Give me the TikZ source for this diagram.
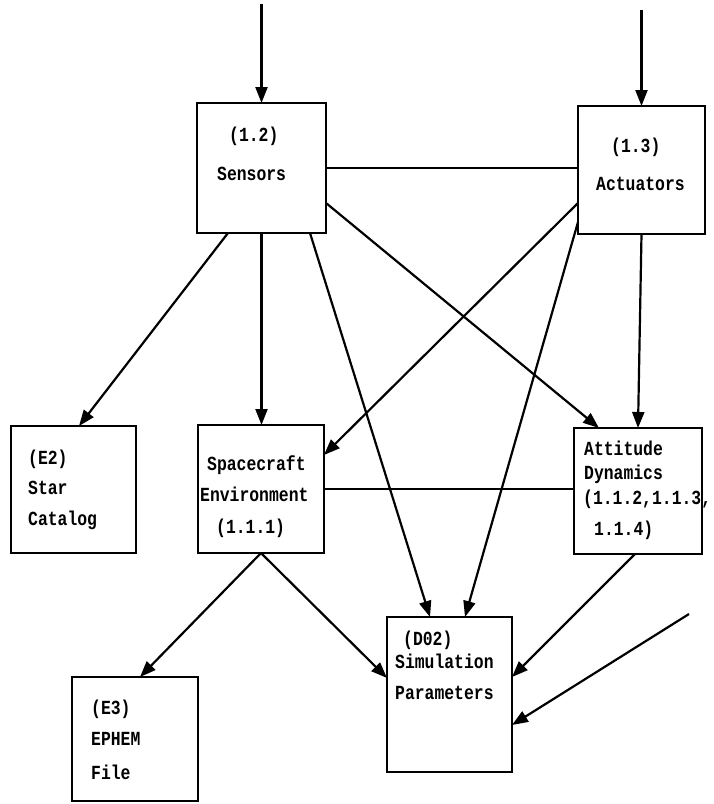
\documentclass[tikz,border=0pt]{standalone}
\usepackage{fontspec}
\newfontfamily\dotf[FakeStretch=0.82]{Liberation Mono}
\usetikzlibrary{arrows.meta,calc}
\begin{document}
\begin{tikzpicture}[x=1pt,y=-1pt,
  box/.style={draw,line width=2.8pt,rectangle,outer sep=0pt,inner sep=0pt},
  conn/.style={line width=2.2pt},
  arr/.style={conn,-{Triangle[length=16pt,width=12pt]}},
  txt/.style={anchor=mid west,inner sep=0pt,font=\dotf\bfseries\fontsize{20}{24}\selectfont}]
\useasboundingbox (0,0) rectangle (713,804);
% boxes
\node[box,minimum width=129pt,minimum height=130pt] (sens) at (261.5,168) {};
\node[box,minimum width=127pt,minimum height=128pt] (act) at (641.5,170) {};
\node[box,minimum width=125pt,minimum height=127pt] (star) at (73.5,489.5) {};
\node[box,minimum width=126pt,minimum height=128pt] (env) at (261,489) {};
\node[box,minimum width=128pt,minimum height=126pt] (att) at (638,491) {};
\node[box,minimum width=125pt,minimum height=155pt] (sim) at (449.5,694.5) {};
\node[box,minimum width=126pt,minimum height=124pt] (eph) at (135,739) {};
% texts
\node[txt] (t1a) at (229,139) {(1.2)};
\node[txt] (t1b) at (217,178) {Sensors};
\node[txt] (t2a) at (611,150) {(1.3)};
\node[txt] (t2b) at (596,188) {Actuators};
\node[txt] (t3a) at (28,462) {(E2)};
\node[txt] (t3b) at (28,492) {Star};
\node[txt] (t3c) at (28,523) {Catalog};
\node[txt] (t4a) at (207,468) {Spacecraft};
\node[txt] (t4b) at (200,499) {Environment};
\node[txt] (t4c) at (216,531) {(1.1.1)};
\node[txt] (t5a) at (584,453) {Attitude};
\node[txt] (t5b) at (584,477) {Dynamics};
\node[txt] (t5c) at (583,502) {(1.1.2,1.1.3,};
\node[txt] (t5d) at (594,533) {1.1.4)};
\node[txt] (t6a) at (403,643) {(D02)};
\node[txt] (t6b) at (395,666) {Simulation};
\node[txt] (t6c) at (395,697) {Parameters};
\node[txt] (t7a) at (91,712) {(E3)};
\node[txt] (t7b) at (91,743) {EPHEM};
\node[txt] (t7c) at (91,777) {File};
% free ends
\coordinate (in1) at (261.5,4);
\coordinate (in2) at (641.5,10);
\coordinate (in3) at (689,614);
% connectors
\draw[arr] (in1) -- (sens.north);
\draw[arr] (in2) -- (act.north);
\draw[conn] (sens.east) -- (sens.east -| act.west);
\draw[arr] ($(sens.south west)+(31,0)$) -- ($(star.north west)+(68,0)$);
\draw[arr] (sens.south) -- (sens.south |- env.north);
\draw[arr] ($(sens.south west)+(113,0)$) -- ($(sim.north west)+(43,0)$);
\draw[arr] ($(sens.north east)+(0,100)$) -- ($(att.north west)+(25,0)$);
\draw[arr] ($(act.north west)+(0,97)$) -- ($(env.north east)+(0,30)$);
\draw[arr] ($(act.north west)+(0,116)$) -- ($(sim.north west)+(78,0)$);
\draw[arr] (act.south) -- ($(att.north west)+(64,0)$);
\draw[conn] (env.east) -- (env.east -| att.west);
\draw[arr] (env.south) -- ($(eph.north west)+(68,0)$);
\draw[arr] (env.south) -- ($(sim.north west)+(0,61)$);
\draw[arr] ($(att.south west)+(61,0)$) -- ($(sim.north east)+(0,60)$);
\draw[arr] (in3) -- ($(sim.north east)+(0,108)$);
\end{tikzpicture}
\end{document}
